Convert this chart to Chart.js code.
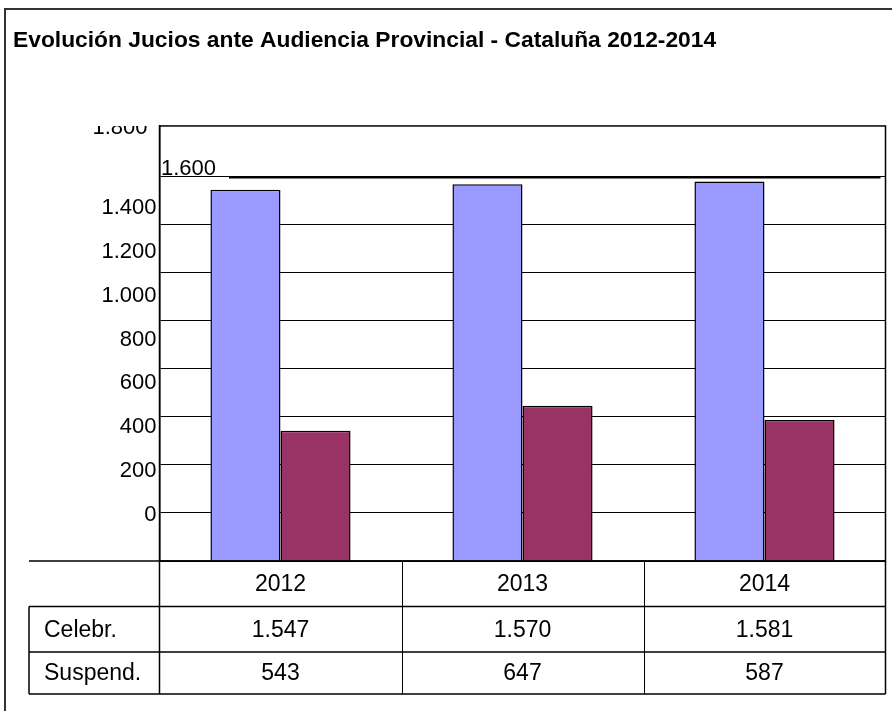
<!DOCTYPE html>
<html>
<head>
<meta charset="utf-8">
<script src="https://cdn.jsdelivr.net/npm/chart.js@4.4.1/dist/chart.umd.min.js"></script>
<style>
  html, body { margin: 0; padding: 0; background: #ffffff; }
  #wrap { width: 892px; height: 711px; position: relative; }
  canvas { display: block; }
</style>
</head>
<body>
<div id="wrap"><canvas id="c" width="892" height="711"></canvas></div>
<script>
// ---- data ----
const chartTitle = 'Evolución Jucios ante Audiencia Provincial - Cataluña 2012-2014';
const categories = ['2012', '2013', '2014'];
const seriesNames = ['Celebr.', 'Suspend.'];
const celebrValues = [1547, 1570, 1581];
const suspendValues = [543, 647, 587];
const yTickValues = [0, 200, 400, 600, 800, 1000, 1200, 1400, 1600, 1800];
const yTickLabels = ['0', '200', '400', '600', '800', '1.000', '1.200', '1.400', '1.600', '1.800'];

const seriesColors = ['#9999FF', '#993366'];
const FONT = '"Liberation Sans", Arial, sans-serif';

function fmt(v) {
  return String(v).replace(/\B(?=(\d{3})+(?!\d))/g, '.');
}
function labelFor(v) {
  const i = yTickValues.indexOf(v);
  return i >= 0 ? yTickLabels[i] : '';
}

const tablePlugin = {
  id: 'tablePlugin',
  afterDraw(chart) {
    const ctx = chart.ctx;
    const ca = chart.chartArea;
    const xs = chart.scales.x;
    const yl = chart.scales.yl;
    const y = chart.scales.y;
    ctx.save();
    ctx.strokeStyle = '#000';
    ctx.fillStyle = '#000';

    // outer frame (left + top)
    ctx.lineWidth = 2;
    ctx.strokeStyle = '#333';
    ctx.beginPath();
    ctx.moveTo(5, 711);
    ctx.lineTo(5, 9);
    ctx.lineTo(892, 9);
    ctx.stroke();
    ctx.strokeStyle = '#000';

    // plot frame
    ctx.lineWidth = 1.5;
    ctx.strokeRect(ca.left, ca.top, ca.right - ca.left, ca.bottom - ca.top);

    // thick underscore line at 1600
    const y16 = Math.round(y.getPixelForValue(1600)) + 0.5;
    ctx.lineWidth = 2;
    ctx.beginPath();
    ctx.moveTo(229, y16);
    ctx.lineTo(ca.right - 5, y16);
    ctx.stroke();

    // special tick labels 1.600 (inside plot) and 1.800 (clipped)
    ctx.font = '22px ' + FONT;
    ctx.textBaseline = 'middle';
    ctx.textAlign = 'left';
    ctx.fillText(labelFor(1600), ca.left + 1.5, yl.getPixelForValue(1600) + 5);
    ctx.save();
    ctx.beginPath();
    ctx.rect(0, ca.top, ca.left, 40);
    ctx.clip();
    ctx.textAlign = 'right';
    ctx.fillText(labelFor(1800), ca.left - 12, yl.getPixelForValue(1800) + 8);
    ctx.restore();

    // data table
    const n = categories.length;
    const colW = (ca.right - ca.left) / n;
    const r0 = ca.bottom, r1 = r0 + 45.5, r2 = r1 + 45.5, r3 = r2 + 42;
    const tl = 29;
    ctx.lineWidth = 1.5;
    ctx.beginPath();
    ctx.moveTo(tl, r0); ctx.lineTo(ca.right, r0);
    ctx.moveTo(tl, r1); ctx.lineTo(ca.right, r1);
    ctx.moveTo(tl, r2); ctx.lineTo(ca.right, r2);
    ctx.moveTo(tl, r3); ctx.lineTo(ca.right, r3);
    ctx.moveTo(tl, r1); ctx.lineTo(tl, r3);
    ctx.moveTo(ca.left, r0); ctx.lineTo(ca.left, r3);
    ctx.moveTo(ca.right, r0); ctx.lineTo(ca.right, r3);
    ctx.stroke();
    ctx.lineWidth = 1;
    ctx.beginPath();
    for (let i = 1; i < n; i++) {
      const cx = Math.round(ca.left + i * colW) + 0.5;
      ctx.moveTo(cx, r0); ctx.lineTo(cx, r3);
    }
    ctx.stroke();

    ctx.font = '23px ' + FONT;
    ctx.textBaseline = 'middle';
    ctx.textAlign = 'center';
    const rows = [celebrValues, suspendValues];
    categories.forEach((c, i) => {
      const cx = xs.getPixelForValue(i);
      ctx.fillText(c, cx, (r0 + r1) / 2 + 1);
      ctx.fillText(fmt(rows[0][i]), cx, (r1 + r2) / 2 + 1);
      ctx.fillText(fmt(rows[1][i]), cx, (r2 + r3) / 2 + 1);
    });
    ctx.textAlign = 'left';
    ctx.fillText(seriesNames[0], 44, (r1 + r2) / 2 + 1);
    ctx.fillText(seriesNames[1], 44, (r2 + r3) / 2 + 1);
    ctx.restore();
  }
};

new Chart(document.getElementById('c'), {
  type: 'bar',
  data: {
    labels: categories,
    datasets: [
      { label: seriesNames[0], data: celebrValues, backgroundColor: seriesColors[0], borderColor: '#000', borderWidth: 1.5, yAxisID: 'y' },
      { label: seriesNames[1], data: suspendValues, backgroundColor: seriesColors[1], borderColor: '#000', borderWidth: 1.5, yAxisID: 'y' }
    ]
  },
  options: {
    responsive: false,
    animation: false,
    devicePixelRatio: 1,
    layout: { padding: { left: 13, right: 6.5, top: 0, bottom: 150 } },
    datasets: { bar: { categoryPercentage: 0.579, barPercentage: 1 } },
    plugins: {
      legend: { display: false },
      tooltip: { enabled: false },
      title: {
        display: true,
        text: chartTitle,
        align: 'start',
        color: '#000',
        font: { family: FONT, size: 22.8, weight: 'bold' },
        padding: { top: 27.3, bottom: 71.3 }
      }
    },
    scales: {
      x: { type: 'category', display: false },
      y: {
        type: 'linear',
        position: 'left',
        weight: 0,
        min: 0,
        max: 1812.5,
        afterBuildTicks: (s) => { s.ticks = yTickValues.filter(v => v <= 1600).map(v => ({ value: v })); },
        afterFit: (s) => { s.width = 0; },
        ticks: { display: false },
        grid: { color: '#000', lineWidth: 1, drawTicks: false },
        border: { display: true, color: '#000', width: 1.5 }
      },
      yl: {
        type: 'linear',
        position: 'left',
        weight: 1,
        min: -209.8,
        max: 1773.9,
        afterBuildTicks: (s) => { s.ticks = yTickValues.filter(v => v <= 1400).map(v => ({ value: v })); },
        afterFit: (s) => { s.width = 146.5; },
        ticks: { color: '#000', padding: 3, font: { family: FONT, size: 22 }, callback: (v) => labelFor(v) },
        grid: { display: false, drawTicks: false },
        border: { display: false }
      }
    }
  },
  plugins: [tablePlugin]
});
</script>
</body>
</html>
